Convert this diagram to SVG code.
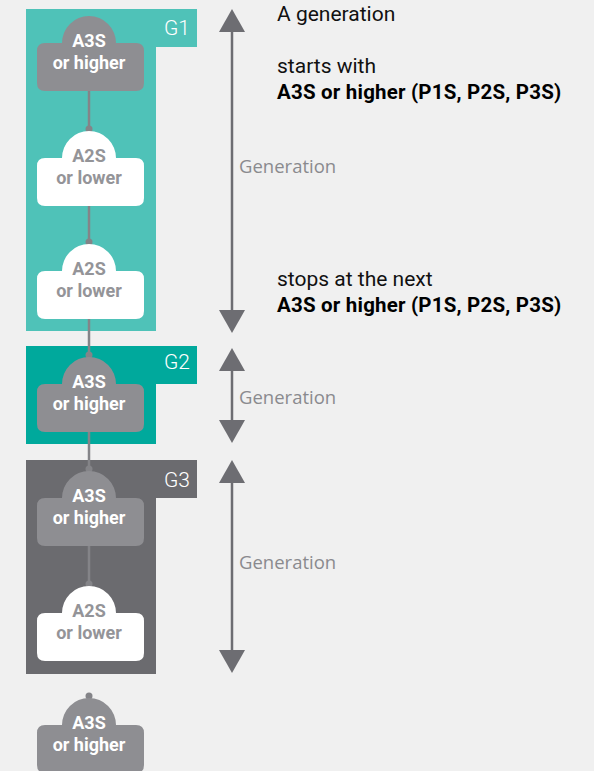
<svg xmlns="http://www.w3.org/2000/svg" width="594" height="771" viewBox="0 0 594 771">
<defs>
<style>
.nt{font-family:Roboto,"Liberation Sans",sans-serif;font-weight:700;font-size:18px;text-anchor:middle}
.hi .sh{fill:#8e8e92}
.hi text{fill:#ffffff}
.lo .sh{fill:#ffffff}
.lo text{fill:#949498}
.gl{font-family:Roboto,"Liberation Sans",sans-serif;font-weight:300;font-size:21px;fill:#ffffff;text-anchor:end}
.conn line{stroke:#848488;stroke-width:2.5}
.conn circle{fill:#848488}
.arr line{stroke:#6d6d72;stroke-width:2.5}
.arr polygon{fill:#6d6d72}
.gen{font-family:"Open Sans","DejaVu Sans",sans-serif;font-size:18.5px;fill:#8a8a8e}
.desc{font-family:Roboto,"Liberation Sans",sans-serif;font-size:21px;fill:#111111}
.desc .b{font-weight:700;fill:#000000;font-size:20.5px;letter-spacing:0.2px}
</style>
<path id="shape" d="M45,26 H62 A27,27 0 0 1 116,26 H136 Q144,26 144,34 V66 Q144,74 136,74 H45 Q37,74 37,66 V34 Q37,26 45,26 Z"/>
</defs>
<rect width="594" height="771" fill="#f0f0f0"/>
<g id="groups">
<g id="G1"><path d="M26,9 H197 V47 H156 V331 H26 Z" fill="#4fc2b8"/><text class="gl" x="190" y="35">G1</text></g>
<g id="G2"><path d="M26,346 H197 V384 H156 V444 H26 Z" fill="#00a99c"/><text class="gl" x="190" y="369">G2</text></g>
<g id="G3"><path d="M26,460 H197 V498 H156 V674 H26 Z" fill="#6b6b6f"/><text class="gl" x="190" y="487">G3</text></g>
</g>
<g id="connectors" class="conn">
<line x1="89" y1="90" x2="89" y2="129"/><circle cx="89" cy="129" r="3.5"/>
<line x1="89" y1="205" x2="89" y2="242"/><circle cx="89" cy="242" r="3.5"/>
<line x1="89" y1="318" x2="89" y2="355"/><circle cx="89" cy="355" r="3.5"/>
<line x1="89" y1="431" x2="89" y2="469"/><circle cx="89" cy="469" r="3.5"/>
<line x1="89" y1="545" x2="89" y2="584"/><circle cx="89" cy="584" r="3.5"/>
<circle cx="89" cy="696" r="3.5"/>
</g>
<g id="n1" class="hi" transform="translate(0,17)"><use href="#shape" class="sh"/><text class="nt" x="89" y="30">A3S</text><text class="nt" x="89" y="52">or higher</text></g>
<g id="n2" class="lo" transform="translate(0,132)"><use href="#shape" class="sh"/><text class="nt" x="89" y="30">A2S</text><text class="nt" x="89" y="52">or lower</text></g>
<g id="n3" class="lo" transform="translate(0,245)"><use href="#shape" class="sh"/><text class="nt" x="89" y="30">A2S</text><text class="nt" x="89" y="52">or lower</text></g>
<g id="n4" class="hi" transform="translate(0,358)"><use href="#shape" class="sh"/><text class="nt" x="89" y="30">A3S</text><text class="nt" x="89" y="52">or higher</text></g>
<g id="n5" class="hi" transform="translate(0,472)"><use href="#shape" class="sh"/><text class="nt" x="89" y="30">A3S</text><text class="nt" x="89" y="52">or higher</text></g>
<g id="n6" class="lo" transform="translate(0,587)"><use href="#shape" class="sh"/><text class="nt" x="89" y="30">A2S</text><text class="nt" x="89" y="52">or lower</text></g>
<g id="n7" class="hi" transform="translate(0,699)"><use href="#shape" class="sh"/><text class="nt" x="89" y="30">A3S</text><text class="nt" x="89" y="52">or higher</text></g>
<g id="arrows" class="arr">
<line x1="232" y1="25" x2="232" y2="317"/><polygon points="232,9 219,32 245,32"/><polygon points="232,333 219,310 245,310"/>
<line x1="232" y1="364" x2="232" y2="427"/><polygon points="232,348 219,371 245,371"/><polygon points="232,443 219,420 245,420"/>
<line x1="232" y1="476" x2="232" y2="657"/><polygon points="232,460 219,483 245,483"/><polygon points="232,673 219,650 245,650"/>
</g>
<g id="labels">
<text class="gen" x="239" y="173">Generation</text>
<text class="gen" x="239" y="404">Generation</text>
<text class="gen" x="239" y="569">Generation</text>
</g>
<g id="description" class="desc">
<text x="277" y="21">A generation</text>
<text x="277" y="73">starts with</text>
<text class="b" x="277" y="99">A3S or higher (P1S, P2S, P3S)</text>
<text x="277" y="286">stops at the next</text>
<text class="b" x="277" y="312">A3S or higher (P1S, P2S, P3S)</text>
</g>
</svg>
